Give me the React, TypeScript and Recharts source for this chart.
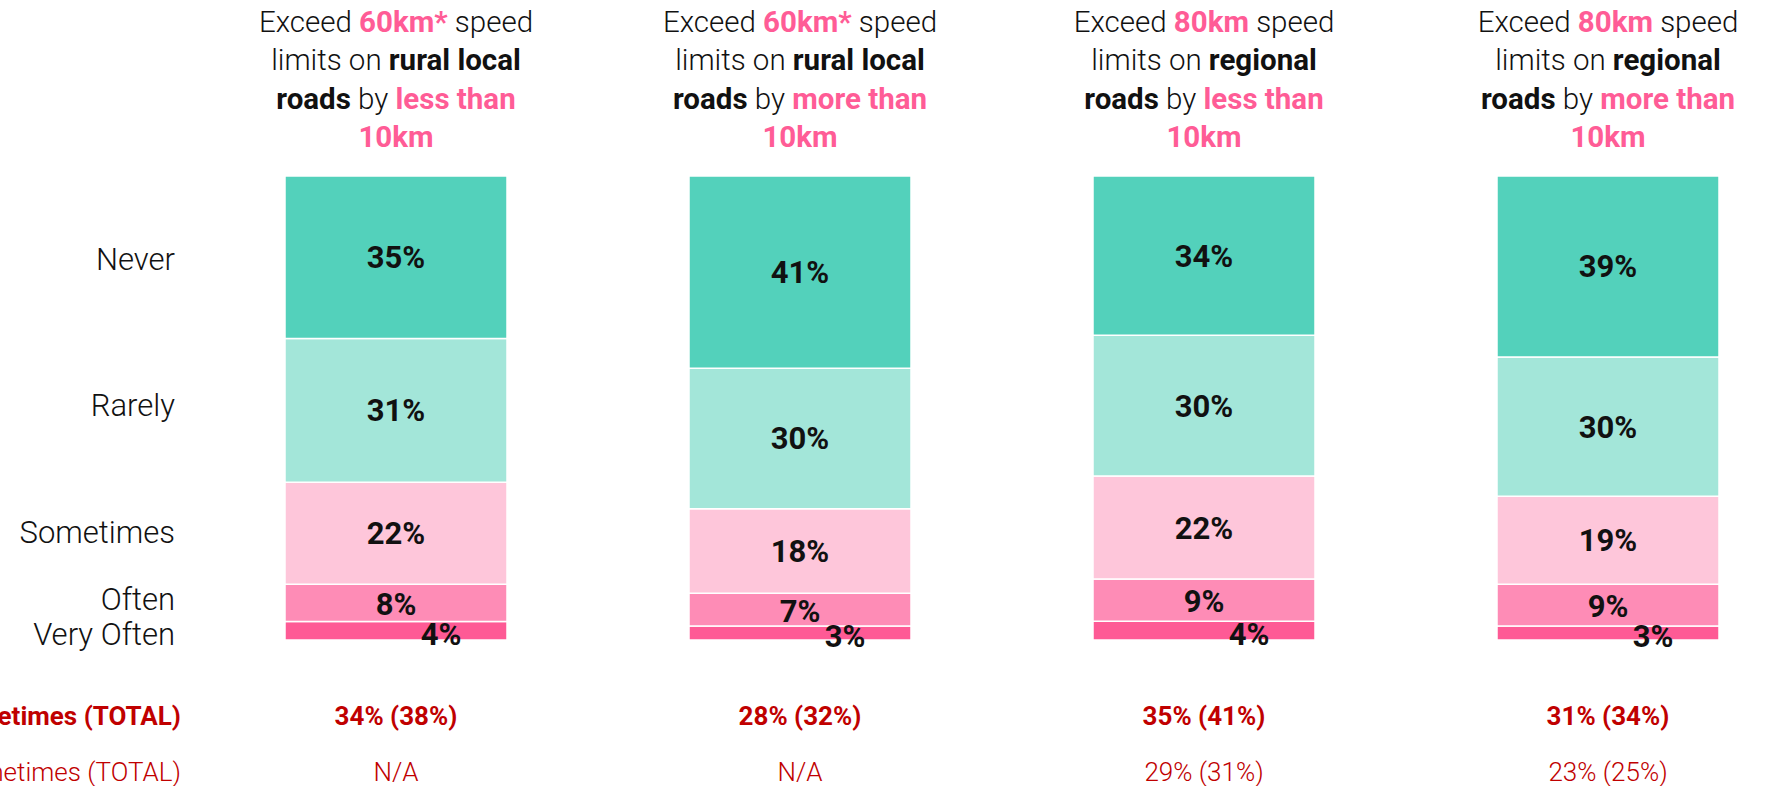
import { BarChart, Bar, XAxis, YAxis, LabelList } from 'recharts';

// title pieces per column
const speedLimits = ['60km*', '60km*', '80km', '80km'];
const roadTypes = ['rural local', 'rural local', 'regional', 'regional'];
const overBy = ['less than', 'more than', 'less than', 'more than'];

// stacked shares (%)
const never = [35, 41, 34, 39];
const rarely = [31, 30, 30, 30];
const sometimes = [22, 18, 22, 19];
const often = [8, 7, 9, 9];
const veryOften = [4, 3, 4, 3];

// totals rows under the bars
const totalBold = ['34% (38%)', '28% (32%)', '35% (41%)', '31% (34%)'];
const totalRegular = ['N/A', 'N/A', '29% (31%)', '23% (25%)'];
const rowLabels = ['Sometimes (TOTAL)', 'Sometimes (TOTAL)'];

const PINK = '#ff5c96';
const RED = '#c00000';
const FONT = 'Roboto, "Open Sans", sans-serif';

const data = speedLimits.map((s, i) => ({
  key: `c${i}`,
  never: never[i],
  rarely: rarely[i],
  sometimes: sometimes[i],
  often: often[i],
  veryOften: veryOften[i],
}));

function TitleTick(props: any) {
  const { x, y, index } = props;
  const lh = 38.5;
  const base = y - 29;
  return (
    <text x={x} textAnchor="middle" fontFamily={FONT} fontSize={29.5} fill="#111">
      <tspan x={x} y={base - lh * 3}>
        <tspan fontWeight={300}>{'Exceed '}</tspan>
        <tspan fontWeight={700} fill={PINK}>{speedLimits[index]}</tspan>
        <tspan fontWeight={300}>{' speed'}</tspan>
      </tspan>
      <tspan x={x} y={base - lh * 2}>
        <tspan fontWeight={300}>{'limits on '}</tspan>
        <tspan fontWeight={700}>{roadTypes[index]}</tspan>
      </tspan>
      <tspan x={x} y={base - lh}>
        <tspan fontWeight={700}>{'roads'}</tspan>
        <tspan fontWeight={300}>{' by '}</tspan>
        <tspan fontWeight={700} fill={PINK}>{overBy[index]}</tspan>
      </tspan>
      <tspan x={x} y={base} fontWeight={700} fill={PINK}>
        10km
      </tspan>
    </text>
  );
}

function TotalTick(props: any) {
  const { x, y, index } = props;
  return (
    <g fontFamily={FONT} fontSize={26} fill={RED}>
      <text x={x} y={y + 85} textAnchor="middle" fontWeight={700}>
        {totalBold[index]}
      </text>
      <text x={x} y={y + 141} textAnchor="middle" fontWeight={300}>
        {totalRegular[index]}
      </text>
      {index === 0 && (
        <>
          <text x={x - 215} y={y + 85} textAnchor="end" fontWeight={700}>
            {rowLabels[0]}
          </text>
          <text x={x - 215} y={y + 141} textAnchor="end" fontWeight={300}>
            {rowLabels[1]}
          </text>
        </>
      )}
    </g>
  );
}

const segmentLabel =
  (vals: number[], name: string, dx = 0, dy = 0, nameDy = 0) =>
  (props: any) => {
    const { x, y, width, height, index } = props;
    const cy = y + height / 2;
    return (
      <g fontFamily={FONT}>
        <text
          x={x + width / 2 + dx}
          y={cy + 11 + dy}
          textAnchor="middle"
          fontSize={31}
          fontWeight={700}
          fill="#111"
        >
          {vals[index]}%
        </text>
        {index === 0 && (
          <text x={x - 110} y={cy + 10 + nameDy} textAnchor="end" fontSize={31} fontWeight={300} fill="#111">
            {name}
          </text>
        )}
      </g>
    );
  };

export default function App() {
  return (
    <div
      style={{
        position: 'absolute',
        left: 0,
        top: 0,
        width: 1770,
        height: 786,
        overflow: 'hidden',
        background: '#fff',
      }}
    >
      <BarChart
        width={1810}
        height={786}
        data={data}
        stackOffset="expand"
        barSize={222}
        margin={{ top: 0, right: 0, bottom: 0, left: 194 }}
      >
        <XAxis
          xAxisId="top"
          orientation="top"
          dataKey="key"
          height={176}
          axisLine={false}
          tickLine={false}
          tickSize={0}
          tickMargin={0}
          interval={0}
          tick={(p: any) => <TitleTick {...p} />}
        />
        <XAxis
          xAxisId="bottom"
          orientation="bottom"
          dataKey="key"
          height={146}
          axisLine={false}
          tickLine={false}
          tickSize={0}
          tickMargin={0}
          interval={0}
          tick={(p: any) => <TotalTick {...p} />}
        />
        <YAxis hide domain={[0, 1]} />
        <Bar xAxisId="bottom" dataKey="veryOften" stackId="s" fill="#fe5a95" stroke="#fff" strokeWidth={1.5} isAnimationActive={false}>
          <LabelList content={segmentLabel(veryOften, 'Very Often', 45, 3, 4)} />
        </Bar>
        <Bar xAxisId="bottom" dataKey="often" stackId="s" fill="#fe8cb6" stroke="#fff" strokeWidth={1.5} isAnimationActive={false}>
          <LabelList content={segmentLabel(often, 'Often', 0, 1, -3)} />
        </Bar>
        <Bar xAxisId="bottom" dataKey="sometimes" stackId="s" fill="#fec6da" stroke="#fff" strokeWidth={1.5} isAnimationActive={false}>
          <LabelList content={segmentLabel(sometimes, 'Sometimes')} />
        </Bar>
        <Bar xAxisId="bottom" dataKey="rarely" stackId="s" fill="#a3e6d9" stroke="#fff" strokeWidth={1.5} isAnimationActive={false}>
          <LabelList content={segmentLabel(rarely, 'Rarely', 0, 0, -4)} />
        </Bar>
        <Bar xAxisId="bottom" dataKey="never" stackId="s" fill="#53d1bb" stroke="#fff" strokeWidth={1.5} isAnimationActive={false}>
          <LabelList content={segmentLabel(never, 'Never', 0, 0, 3)} />
        </Bar>
      </BarChart>
    </div>
  );
}
